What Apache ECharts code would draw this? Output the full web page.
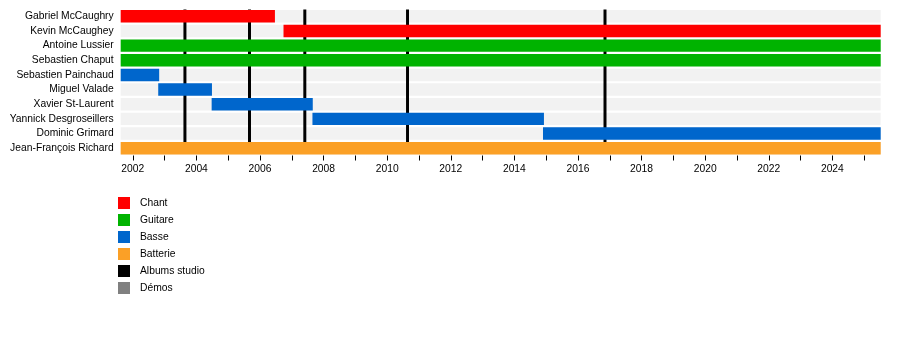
<!DOCTYPE html>
<html>
<head>
<meta charset="utf-8">
<script src="https://cdn.jsdelivr.net/npm/echarts@6/dist/echarts.min.js"></script>
<style>html,body{margin:0;padding:0;background:#fff}#c{width:900px;height:364px}</style>
</head>
<body>
<div id="c"></div>
<script>
const members = ['Gabriel McCaughry','Kevin McCaughey','Antoine Lussier','Sebastien Chaput','Sebastien Painchaud','Miguel Valade','Xavier St-Laurent','Yannick Desgroseillers','Dominic Grimard','Jean-François Richard'];
const roles = ['Chant','Chant','Guitare','Guitare','Basse','Basse','Basse','Basse','Basse','Batterie'];
const starts = [2001.62, 2006.74, 2001.62, 2001.62, 2001.62, 2002.80, 2004.48, 2007.65, 2014.90, 2001.62];
const ends   = [2006.47, 2025.52, 2025.52, 2025.52, 2002.83, 2004.49, 2007.66, 2014.93, 2025.52, 2025.52];
const albums = [2003.64, 2005.67, 2007.41, 2010.64, 2016.85];
const demos = [];
const timeStart = 2001.62;
const timeEnd = 2025.52;
const yearTicks = [2002,2003,2004,2005,2006,2007,2008,2009,2010,2011,2012,2013,2014,2015,2016,2017,2018,2019,2020,2021,2022,2023,2024,2025];
const yearLabels = [2002,2004,2006,2008,2010,2012,2014,2016,2018,2020,2022,2024];
const roleNames = ['Chant','Guitare','Basse','Batterie'];
const roleColors = {'Chant':'#ff0000','Guitare':'#00b300','Basse':'#0066cc','Batterie':'#fba026'};

const FONT = '"Liberation Sans", Arial, sans-serif';

function barRender(params, api) {
  const y = api.value(2);
  const s = api.coord([api.value(0), y]);
  const e = api.coord([api.value(1), y]);
  const h = api.size([0, 1])[1] * 0.85;
  return {type:'rect', shape:{x:s[0], y:s[1]-h/2, width:e[0]-s[0], height:h}, style:{fill: api.visual('color')}};
}
function lineRender(params, api) {
  const x = api.coord([api.value(0), 0])[0];
  const cs = params.coordSys;
  return {type:'line', shape:{x1:x, y1:cs.y + 0.5, x2:x, y2:cs.y+cs.height-2}, style:{stroke:'#000', lineWidth:3}};
}

const series = [];
series.push({
  name:'bg', type:'custom', z:1, renderItem: barRender, itemStyle:{color:'#f2f2f2'},
  encode:{x:[0,1], y:2},
  data: members.map((m,i)=>[timeStart, timeEnd, i]), silent:true
});
series.push({
  name:'Albums studio', type:'custom', z:2, renderItem: lineRender, itemStyle:{color:'#000'},
  encode:{x:0, y:1},
  data: albums.map(a=>[a, 0]), silent:true
});
series.push({
  name:'Démos', type:'custom', z:2, renderItem: lineRender, itemStyle:{color:'#808080'},
  encode:{x:0, y:1},
  data: demos.map(a=>[a, 0]), silent:true
});
roleNames.forEach(r=>{
  const d = [];
  members.forEach((m,i)=>{ if (roles[i]===r) d.push([starts[i], ends[i], i]); });
  series.push({name:r, type:'custom', z:3, renderItem: barRender, itemStyle:{color:roleColors[r]}, encode:{x:[0,1], y:2}, data:d, silent:true});
});

const chart = echarts.init(document.getElementById('c'), null, {renderer:'canvas'});
chart.setOption({
  animation:false,
  backgroundColor:'#fff',
  grid:{left:120.7, right:19.3, top:9, bottom:208.5, containLabel:false},
  xAxis:{
    type:'value', min:timeStart, max:timeEnd,
    splitLine:{show:false},
    axisLine:{show:false},
    axisTick:{show:true, length:5, customValues:yearTicks, lineStyle:{color:'#000', width:1}},
    axisLabel:{show:true, customValues:yearLabels, margin:9, color:'#000', fontSize:10.3, fontFamily:FONT, formatter: v=>String(Math.round(v))}
  },
  yAxis:{
    type:'category', data:members, inverse:true,
    axisLine:{show:false}, axisTick:{show:false}, splitLine:{show:false},
    axisLabel:{color:'#000', fontSize:10.3, fontFamily:FONT, margin:7}
  },
  legend:{
    data:['Chant','Guitare','Basse','Batterie','Albums studio','Démos'],
    orient:'vertical', left:113, top:192, itemWidth:12, itemHeight:12, itemGap:5,
    icon:'rect', selectedMode:false,
    textStyle:{color:'#000', fontSize:10.3, fontFamily:FONT, padding:[2,0,0,5]}
  },
  series: series
});
</script>
</body>
</html>
